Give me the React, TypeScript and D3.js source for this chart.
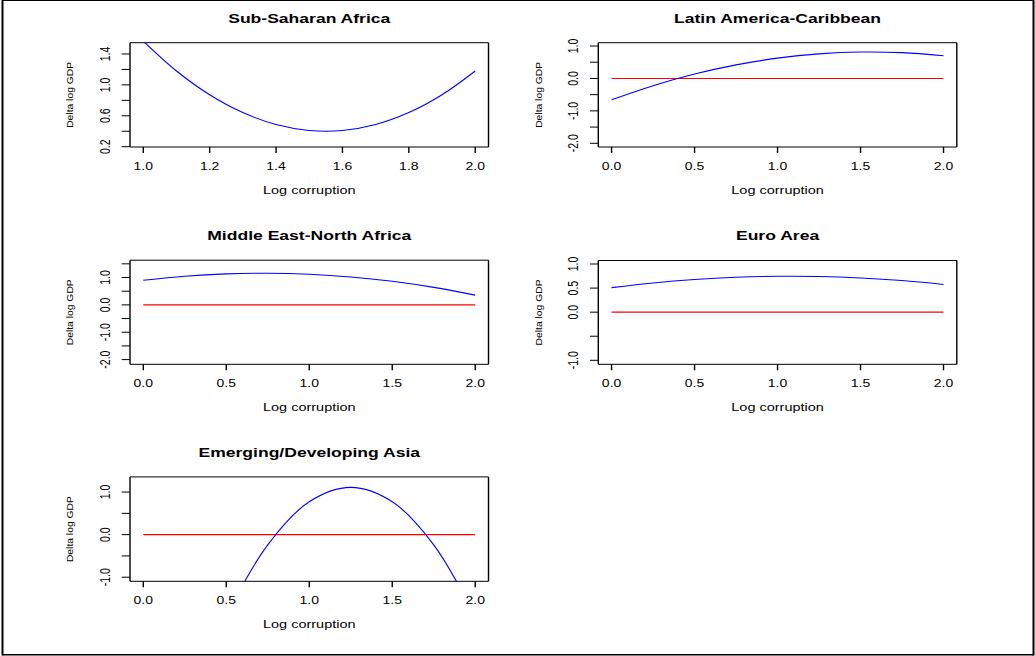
import React from "react";
import * as d3 from "d3";

// ---------- data ----------
const titles = [
  "Sub-Saharan Africa",
  "Latin America-Caribbean",
  "Middle East-North Africa",
  "Euro Area",
  "Emerging/Developing Asia",
];

const ssaX = [1.0, 1.1, 1.2, 1.3, 1.4, 1.5, 1.6, 1.7, 1.8, 1.9, 2.0];
const ssaY = [1.565, 1.18, 0.872, 0.641, 0.487, 0.41, 0.41, 0.487, 0.641, 0.872, 1.18];

const gridX = [0, 0.25, 0.5, 0.75, 1.0, 1.25, 1.5, 1.75, 2.0];
const lacY = [-0.66, -0.225, 0.135, 0.418, 0.626, 0.758, 0.815, 0.795, 0.7];
const menaY = [0.9, 1.047, 1.133, 1.157, 1.12, 1.021, 0.861, 0.639, 0.355];
const euroY = [0.51, 0.607, 0.678, 0.724, 0.745, 0.741, 0.71, 0.656, 0.575];
const asiaY = [-7.33, -4.29, -1.93, -0.24, 0.7725, 1.11, 0.7725, -0.24, -1.93];

const ssaXTicks = [1.0, 1.2, 1.4, 1.6, 1.8, 2.0];
const xTicks02 = [0, 0.5, 1.0, 1.5, 2.0];

const ssaYTicks = [0.2, 0.4, 0.6, 0.8, 1.0, 1.2, 1.4];
const ssaYLabels = [0.2, 0.6, 1.0, 1.4];
const lacYTicks = [-2.0, -1.5, -1.0, -0.5, 0.0, 0.5, 1.0];
const lacYLabels = [-2.0, -1.0, 0.0, 1.0];
const menaYTicks = [-2.0, -1.5, -1.0, -0.5, 0.0, 0.5, 1.0, 1.5];
const menaYLabels = [-2.0, -1.0, 0.0, 1.0];
const euroYTicks = [-1.0, -0.5, 0.0, 0.5, 1.0];
const euroYLabels = [-1.0, 0.0, 0.5, 1.0];
const asiaYTicks = [-1.0, -0.5, 0.0, 0.5, 1.0];
const asiaYLabels = [-1.0, 0.0, 1.0];

const refLineY = [null, 0, 0, 0, 0];

// ---------- layout ----------
const SX = 1.4;
const FONT = '"Liberation Sans", Arial, Helvetica, sans-serif';

type Panel = {
  title: string;
  xs: number[];
  ys: number[];
  xDomain: [number, number];
  yDomain: [number, number];
  xTicks: number[];
  yTicks: number[];
  yLabels: number[];
  ref: number | null;
  left: number;
  top: number;
  bottom: number;
};

const BOX_W = 358.5;

const panels: Panel[] = [
  { title: titles[0], xs: ssaX, ys: ssaY, xDomain: [1, 2], yDomain: [0.196, 1.546], xTicks: ssaXTicks, yTicks: ssaYTicks, yLabels: ssaYLabels, ref: refLineY[0], left: 130, top: 42.7, bottom: 147 },
  { title: titles[1], xs: gridX, ys: lacY, xDomain: [0, 2], yDomain: [-2.114, 1.102], xTicks: xTicks02, yTicks: lacYTicks, yLabels: lacYLabels, ref: refLineY[1], left: 598.3, top: 42.7, bottom: 147 },
  { title: titles[2], xs: gridX, ys: menaY, xDomain: [0, 2], yDomain: [-2.172, 1.633], xTicks: xTicks02, yTicks: menaYTicks, yLabels: menaYLabels, ref: refLineY[2], left: 130, top: 260.2, bottom: 364.3 },
  { title: titles[3], xs: gridX, ys: euroY, xDomain: [0, 2], yDomain: [-1.083, 1.073], xTicks: xTicks02, yTicks: euroYTicks, yLabels: euroYLabels, ref: refLineY[3], left: 598.3, top: 260.5, bottom: 364.3 },
  { title: titles[4], xs: gridX, ys: asiaY, xDomain: [0, 2], yDomain: [-1.096, 1.356], xTicks: xTicks02, yTicks: asiaYTicks, yLabels: asiaYLabels, ref: refLineY[4], left: 130, top: 476.9, bottom: 581.3 },
];

const fmt = (v: number) => v.toFixed(1);

function PanelView({ p, i }: { p: Panel; i: number }) {
  const [a, b] = p.xDomain;
  const pad = (b - a) * 0.04;
  const x = d3.scaleLinear().domain([a - pad, b + pad]).range([p.left, p.left + BOX_W]);
  const y = d3.scaleLinear().domain(p.yDomain).range([p.bottom, p.top]);
  const line = d3
    .line<number>()
    .x((_, k) => x(p.xs[k]))
    .y((d) => y(d))
    .curve(d3.curveCatmullRom.alpha(0.5));
  const clipId = `clip${i}`;
  const cx = p.left + BOX_W / 2;
  const cy = (p.top + p.bottom) / 2;
  return (
    <g>
      <defs>
        <clipPath id={clipId}>
          <rect x={p.left} y={p.top} width={BOX_W} height={p.bottom - p.top} />
        </clipPath>
      </defs>
      <g clipPath={`url(#${clipId})`}>
        {p.ref !== null && (
          <line x1={x(a)} x2={x(b)} y1={y(p.ref)} y2={y(p.ref)} stroke="#FF0000" strokeWidth={1.1} />
        )}
        <path d={line(p.ys) || ""} fill="none" stroke="#0000FF" strokeWidth={1.1} />
      </g>
      {/* box: vertical edges appear thicker */}
      <line x1={p.left} x2={p.left + BOX_W} y1={p.top} y2={p.top} stroke="#000" strokeWidth={1} />
      <line x1={p.left} x2={p.left + BOX_W} y1={p.bottom} y2={p.bottom} stroke="#000" strokeWidth={1} />
      <line x1={p.left} x2={p.left} y1={p.top} y2={p.bottom} stroke="#000" strokeWidth={1.4} />
      <line x1={p.left + BOX_W} x2={p.left + BOX_W} y1={p.top} y2={p.bottom} stroke="#000" strokeWidth={1.4} />
      {/* x axis */}
      {p.xTicks.map((t) => (
        <g key={`xt${t}`}>
          <line x1={x(t)} x2={x(t)} y1={p.bottom} y2={p.bottom + 6} stroke="#000" strokeWidth={1.4} />
          <text
            transform={`translate(${x(t)},${p.bottom + 22.8}) scale(${SX},1)`}
            textAnchor="middle"
            fontSize={10}
            fontFamily={FONT}
          >
            {fmt(t)}
          </text>
        </g>
      ))}
      {/* y axis */}
      {p.yTicks.map((t) => (
        <line key={`yt${t}`} x1={p.left - 8.3} x2={p.left} y1={y(t)} y2={y(t)} stroke="#000" strokeWidth={1} />
      ))}
      {p.yLabels.map((t) => (
        <text
          key={`yl${t}`}
          transform={`translate(${p.left - 20},${y(t)}) scale(${SX},1) rotate(-90)`}
          textAnchor="middle"
          fontSize={10.5}
          fontFamily={FONT}
        >
          {fmt(t)}
        </text>
      ))}
      {/* title */}
      <text
        transform={`translate(${cx},${p.top - 20.2}) scale(1.35,1)`}
        textAnchor="middle"
        fontSize={13}
        fontWeight="bold"
        fontFamily={FONT}
      >
        {p.title}
      </text>
      {/* axis labels */}
      <text
        transform={`translate(${cx},${p.bottom + 46.7}) scale(1.42,1)`}
        textAnchor="middle"
        fontSize={10.2}
        fontFamily={FONT}
      >
        Log corruption
      </text>
      <text
        transform={`translate(${p.left - 56.7},${cy}) rotate(-90)`}
        textAnchor="middle"
        fontSize={9.5}
        fontFamily={FONT}
        textLength={66}
        lengthAdjust="spacingAndGlyphs"
      >
        Delta log GDP
      </text>
    </g>
  );
}

export default function App() {
  return (
    <svg
      width={1035}
      height={656}
      style={{ position: "absolute", left: 0, top: 0, background: "#fff" }}
    >
      <rect x={0} y={0} width={1035} height={656} fill="#fff" />
      {/* outer frame */}
      <line x1={2.5} x2={1033.5} y1={0.5} y2={0.5} stroke="#000" strokeWidth={1.2} />
      <line x1={2.5} x2={1033.5} y1={654.8} y2={654.8} stroke="#000" strokeWidth={1.5} />
      <line x1={2.5} x2={2.5} y1={0} y2={655.5} stroke="#000" strokeWidth={2} />
      <line x1={1033.5} x2={1033.5} y1={0} y2={655.5} stroke="#000" strokeWidth={2} />
      {panels.map((p, i) => (
        <PanelView key={i} p={p} i={i} />
      ))}
    </svg>
  );
}
